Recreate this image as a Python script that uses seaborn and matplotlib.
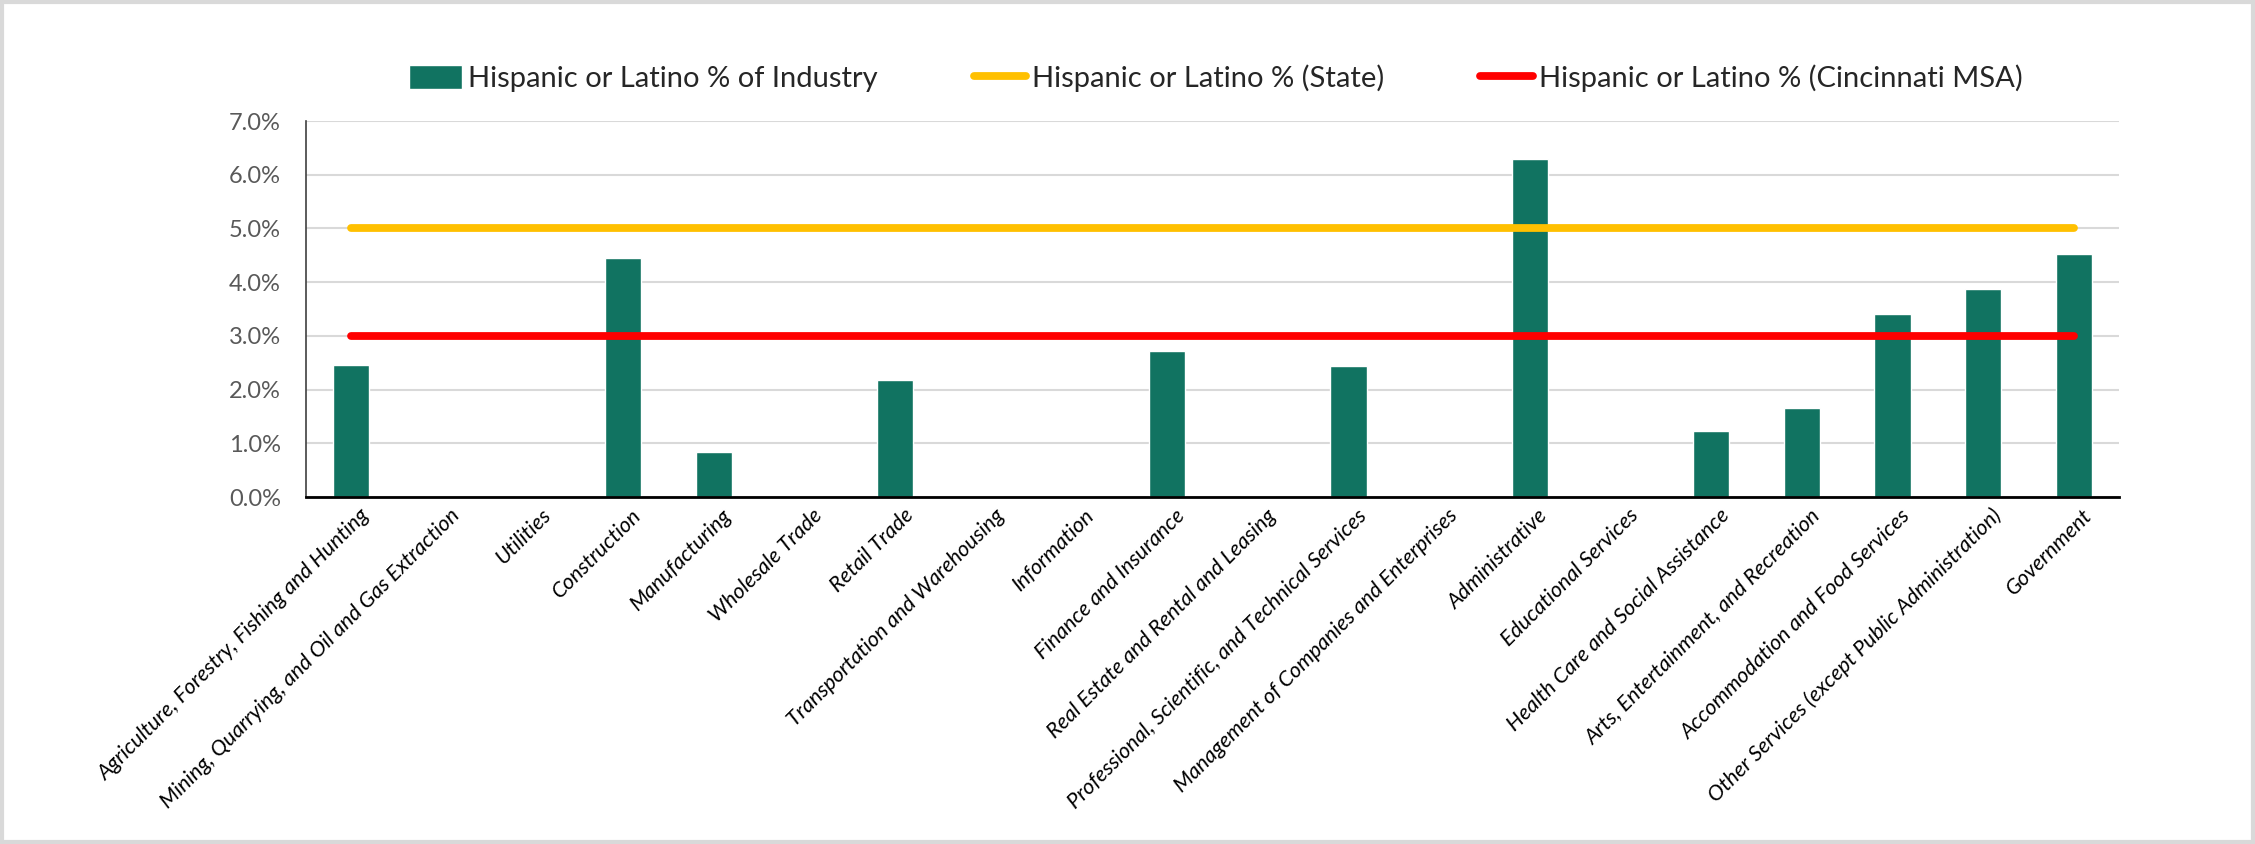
import matplotlib
matplotlib.use("Agg")
import matplotlib.pyplot as plt
import matplotlib.transforms as mtransforms
from matplotlib.patches import Rectangle
from matplotlib.lines import Line2D
from matplotlib.ticker import FuncFormatter, MultipleLocator
import pandas as pd
import seaborn as sns

# Industry shares of Hispanic or Latino workers (percent)
industries = [
    "Agriculture, Forestry, Fishing and Hunting",
    "Mining, Quarrying, and Oil and Gas Extraction",
    "Utilities",
    "Construction",
    "Manufacturing",
    "Wholesale Trade",
    "Retail Trade",
    "Transportation and Warehousing",
    "Information",
    "Finance and Insurance",
    "Real Estate and Rental and Leasing",
    "Professional, Scientific, and Technical Services",
    "Management of Companies and Enterprises",
    "Administrative",
    "Educational Services",
    "Health Care and Social Assistance",
    "Arts, Entertainment, and Recreation",
    "Accommodation and Food Services",
    "Other Services (except Public Administration)",
    "Government",
]
industry_pct = [2.45, 0.0, 0.0, 4.45, 0.84, 0.0, 2.18, 0.0, 0.0, 2.72,
                0.0, 2.43, 0.0, 6.29, 0.0, 1.22, 1.66, 3.41, 3.87, 4.53]
state_pct = 5.0
msa_pct = 3.0

bar_label = "Hispanic or Latino % of Industry"
state_label = "Hispanic or Latino % (State)"
msa_label = "Hispanic or Latino % (Cincinnati MSA)"

BAR_COLOR = "#117361"
STATE_COLOR = "#FFC000"
MSA_COLOR = "#FF0000"

sns.set_theme(style="white")
plt.rcParams["font.family"] = ["Lato", "DejaVu Sans"]

df = pd.DataFrame({
    "industry": industries,
    "pct": industry_pct,
    "state": [state_pct] * len(industries),
    "msa": [msa_pct] * len(industries),
})

fig = plt.figure(figsize=(22.55, 8.44), dpi=100)
ax = fig.add_axes([306 / 2255, 1 - 497 / 844, (2119 - 306) / 2255, (497 - 121) / 844])

sns.barplot(data=df, x="industry", y="pct", color=BAR_COLOR, width=0.4,
            saturation=1, ax=ax, zorder=2)
sns.lineplot(data=df, x="industry", y="state", color=STATE_COLOR, linewidth=5.6,
             ax=ax, zorder=3, solid_capstyle="round")
sns.lineplot(data=df, x="industry", y="msa", color=MSA_COLOR, linewidth=5.6,
             ax=ax, zorder=3, solid_capstyle="round")

ax.set_xlim(-0.5, len(industries) - 0.5)
ax.set_ylim(0, 7)
ax.yaxis.set_major_locator(MultipleLocator(1))
ax.yaxis.set_major_formatter(FuncFormatter(lambda v, p: f"{v:.1f}%"))
ax.grid(axis="y", color="#D9D9D9", linewidth=1.5, zorder=0)
ax.set_axisbelow(True)
ax.set_xlabel("")
ax.set_ylabel("")

for side in ["top", "right"]:
    ax.spines[side].set_visible(False)
ax.spines["left"].set_color("#404040")
ax.spines["left"].set_linewidth(1.2)
ax.spines["bottom"].set_color("#000000")
ax.spines["bottom"].set_linewidth(2.0)
ax.spines["bottom"].set_zorder(4)

ax.tick_params(axis="y", length=0, pad=18, labelsize=17, labelcolor="#595959")
ax.tick_params(axis="x", length=0, pad=6)

ax.set_xticks(range(len(industries)))
ax.set_xticklabels(industries, rotation=45, ha="right", rotation_mode="anchor",
                   fontsize=15.6, fontstyle="italic", color="#000000")
shift = mtransforms.ScaledTranslation(8 / 100, 0, fig.dpi_scale_trans)
for lbl in ax.get_xticklabels():
    lbl.set_transform(lbl.get_transform() + shift)

handles = [
    Rectangle((0, 0), 1, 1, facecolor=BAR_COLOR),
    Line2D([0], [0], color=STATE_COLOR, linewidth=5.6, solid_capstyle="round"),
    Line2D([0], [0], color=MSA_COLOR, linewidth=5.6, solid_capstyle="round"),
]
fig.legend(handles, [bar_label, state_label, msa_label], loc="center",
           bbox_to_anchor=(1216 / 2255, 1 - 78 / 844), ncol=3, frameon=False,
           fontsize=21, handlelength=1.8, handletextpad=0.2, columnspacing=3.3,
           handleheight=0.9)

fig.patches.append(Rectangle((0.001, 0.002), 0.998, 0.996, transform=fig.transFigure,
                             fill=False, edgecolor="#D9D9D9", linewidth=3))

fig.savefig("out.png", dpi=100, facecolor="white")
